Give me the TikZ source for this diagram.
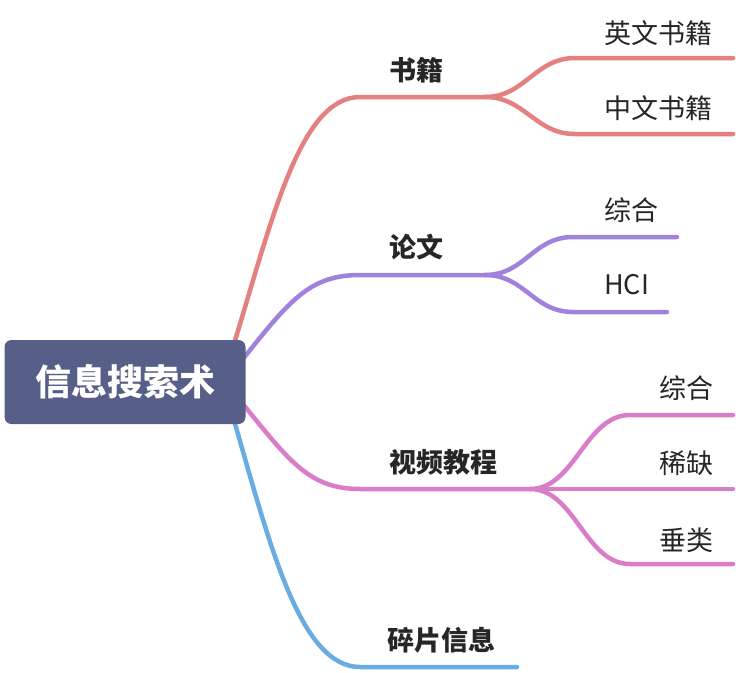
\documentclass[tikz,border=0pt]{standalone}
\usepackage{fontspec}
\newfontfamily\cjk{Noto Sans CJK SC}
\usetikzlibrary{backgrounds,calc}
\definecolor{rootblue}{RGB}{87,94,135}
\definecolor{bookred}{RGB}{228,128,128}
\definecolor{paperpurple}{RGB}{160,130,220}
\definecolor{videopink}{RGB}{218,124,200}
\definecolor{fragblue}{RGB}{104,172,226}
\definecolor{txtgray}{RGB}{38,38,38}
\tikzset{
  topic/.style={font=\cjk\bfseries\fontsize{27}{32}\selectfont, text=txtgray, inner sep=0pt, anchor=west},
  leaf/.style={font=\cjk\fontsize{27}{32}\selectfont, text=txtgray, inner sep=0pt, anchor=west},
  branch/.style={line width=4.5pt, line cap=round},
}

\begin{document}
\begin{tikzpicture}[x=1pt,y=-1pt]
\useasboundingbox (0,0) rectangle (736,672);
\node[fill=rootblue, rounded corners=7pt, minimum width=241pt, minimum height=84pt, inner sep=0pt,
      text=white, font=\cjk\bfseries\fontsize{36}{40}\selectfont] (root) at (125,382) {信息搜索术};
% main topics
\node[topic] (shuji) at (389,70)  {书籍};
\node[topic] (lunwen) at (389,247) {论文};
\node[topic] (shipin) at (389,462) {视频教程};
\node[topic] (suipian) at (387,640) {碎片信息};
% subtopics
\node[leaf] (yingwen) at (604,33)  {英文书籍};
\node[leaf] (zhongwen) at (604,108) {中文书籍};
\node[leaf] (zonghe1) at (604,210) {综合};
\node[leaf] (hci) at (604,285) {HCI};
\node[leaf] (zonghe2) at (659,388) {综合};
\node[leaf] (xique) at (659,463) {稀缺};
\node[leaf] (chuilei) at (659,540) {垂类};
% line ends
\coordinate (b1) at (360,97);  \coordinate (f1) at (485,97);
\coordinate (b2) at (360,275); \coordinate (f2) at (485,275);
\coordinate (b3) at (360,489); \coordinate (f3) at (530,489);
\coordinate (b4) at (360,667); \coordinate (e4) at (517,667);
\begin{scope}[on background layer]
\draw[branch, bookred] ($(root.north east)+(-12,5)$) .. controls (272,220) and (300,97) .. (b1) -- (f1);
\draw[branch, paperpurple] ($(root.east)+(-2,-24)$) .. controls (290,300) and (310,275) .. (b2) -- (f2);
\draw[branch, videopink] ($(root.east)+(-2,23)$) .. controls (290,462) and (310,489) .. (b3) -- (f3);
\draw[branch, fragblue] ($(root.south east)+(-12,-5)$) .. controls (270,545) and (300,667) .. (b4) -- (e4);
\end{scope}
\draw[branch, bookred] (f1) .. controls (525,97) and (535,58) .. (575,58) -- (733,58);
\draw[branch, bookred] (f1) .. controls (525,97) and (535,134) .. (575,134) -- (733,134);
\draw[branch, paperpurple] (f2) .. controls (525,275) and (533,237) .. (573,237) -- (677,237);
\draw[branch, paperpurple] (f2) .. controls (525,275) and (533,312) .. (573,312) -- (667,312);
\draw[branch, videopink] (f3) .. controls (575,489) and (585,415) .. (630,415) -- (733,415);
\draw[branch, videopink] (f3) -- (733,489);
\draw[branch, videopink] (f3) .. controls (575,489) and (585,564) .. (630,564) -- (733,564);
\end{tikzpicture}
\end{document}
